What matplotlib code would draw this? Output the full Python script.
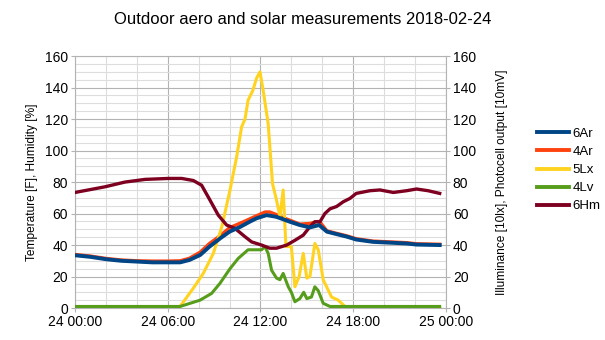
import matplotlib
matplotlib.use("Agg")
import matplotlib.pyplot as plt
from matplotlib.ticker import MultipleLocator

plt.rcParams['font.family'] = ['Liberation Sans', 'DejaVu Sans']

# hours since 2018-02-24 00:00
t_6ar = [0, 1, 2, 3, 4, 5, 6, 6.8, 7.4, 8.1, 8.7, 9.4, 10.0, 10.7, 11.3, 11.75, 12.4,
         13.0, 13.3, 13.9, 14.55, 15.2, 15.8, 16.3, 16.9, 17.6, 18.2, 19.3, 20.4,
         21.45, 22.1, 23.6]
v_6ar = [33.5, 32.5, 31, 30, 29.5, 29, 29, 29, 30.5, 33.7, 39, 44.3, 48.5, 51.6, 54.8,
         57, 59, 58, 57, 54.8, 52.7, 51.2, 52.7, 48.5, 47, 45.3, 43.5, 42, 41.5, 41,
         40.3, 40]

t_4ar = [0, 1, 2, 3, 4, 5, 6, 6.8, 7.4, 8.1, 8.7, 9.4, 10.0, 10.9, 11.75, 12.3, 12.6,
         13.0, 13.3, 13.9, 14.55, 15.2, 15.7, 15.9, 16.3, 16.9, 17.6, 18.2, 19.3, 20.4,
         21.45, 22.1, 23.6]
v_4ar = [34, 33, 31.5, 30.5, 30, 29.8, 29.8, 30, 31.6, 35.5, 41, 46, 51, 54.8, 58.6, 61,
         61, 59.5, 58, 55.8, 53.3, 53.7, 55, 54, 49, 47.5, 45.8, 44, 42.5, 42, 41.5,
         40.8, 40.5]

t_5lx = [0, 6.6, 6.8, 7.65, 8.3, 8.95, 9.5, 10.03, 10.46, 10.78, 11.0, 11.2, 11.5,
         11.75, 11.97, 12.18, 12.5, 12.78, 13.04, 13.26, 13.47, 13.65, 14.0, 14.23,
         14.5, 14.77, 15.0, 15.2, 15.52, 15.74, 16.06, 16.6, 17.03, 17.47, 17.8, 23.6]
v_5lx = [0, 0, 1, 12.5, 22, 34.7, 51.6, 75, 96, 115, 120, 132, 138, 146, 150, 138, 117,
         79, 68.6, 58, 75, 39, 39, 13.5, 20, 34.7, 19, 20, 41, 37, 18, 7, 5, 1, 0, 0]

t_4lv = [0, 6.8, 8.09, 8.84, 9.38, 10.03, 10.56, 11.2, 12.07, 12.29, 12.5, 12.72, 13.04,
         13.26, 13.47, 13.8, 14.0, 14.23, 14.55, 14.8, 15.0, 15.3, 15.52, 15.74, 16.06,
         16.5, 23.6]
v_4lv = [1, 1, 5, 9.3, 15.7, 25, 31.5, 37, 37, 39, 34.7, 24, 19, 18, 22, 13.5, 10, 4, 6,
         10, 6, 7, 13.5, 11, 3, 1, 1]

t_6hm = [0, 1.94, 3.23, 4.53, 6.04, 6.9, 7.65, 8.19, 8.73, 9.27, 9.81, 10.35, 11.0,
         11.43, 12.07, 12.6, 13.04, 13.37, 13.7, 14.23, 14.77, 15.2, 15.52, 15.85,
         16.17, 16.5, 16.93, 17.36, 17.79, 18.2, 19.08, 19.73, 20.6, 21.45, 22.1,
         22.85, 23.6]
v_6hm = [73.4, 77, 80, 81.7, 82.3, 82.3, 81, 78, 68.6, 59, 52.7, 50.6, 45.3, 42, 40, 38,
         38, 39, 40, 43, 46.3, 51.6, 54.8, 54.8, 60, 63, 64.5, 67.5, 69.6, 72.8, 74.5,
         75, 73.4, 74.5, 75.6, 74.5, 72.8]

hour_ticks = [0, 6, 12, 18, 24]
hour_labels = ['24 00:00', '24 06:00', '24 12:00', '24 18:00', '25 00:00']

major_c = '#b3b3b3'
minor_c = '#dddddd'

fig = plt.figure(figsize=(6.05, 3.40), dpi=100)
ax = fig.add_axes([0.124, 0.094, 0.613, 0.741])

ax.plot(t_4ar, v_4ar, color='#ff420e', lw=2.4, label='4Ar', zorder=3)
ax.plot(t_6ar, v_6ar, color='#004586', lw=2.8, label='6Ar', zorder=4)
ax.plot(t_5lx, v_5lx, color='#ffd320', lw=2.2, label='5Lx', zorder=3)
ax.plot(t_4lv, v_4lv, color='#579d1c', lw=2.2, label='4Lv', zorder=3)
ax.plot(t_6hm, v_6hm, color='#7e0021', lw=2.4, label='6Hm', zorder=3)

ax.set_xlim(0, 24)
ax.set_ylim(0, 160)
ax.set_xticks(hour_ticks)
ax.set_xticklabels(hour_labels)
ax.xaxis.set_minor_locator(MultipleLocator(2))
ax.yaxis.set_major_locator(MultipleLocator(20))
ax.yaxis.set_minor_locator(MultipleLocator(5))
ax.grid(which='major', color=major_c, lw=0.8)
ax.grid(which='minor', color=minor_c, lw=0.8)
ax.set_axisbelow(True)
ax.tick_params(which='major', length=3, color=major_c, labelsize=10, pad=2)
ax.tick_params(which='minor', length=0)
for s in ax.spines.values():
    s.set_color(major_c)
    s.set_linewidth(0.8)
ax.set_ylabel('Temperature [F], Humidity [%]', fontsize=8.6, labelpad=5)

ax2 = ax.twinx()
ax2.set_ylim(0, 160)
ax2.yaxis.set_major_locator(MultipleLocator(20))
ax2.tick_params(length=3, color=major_c, labelsize=10, pad=2)
for s in ax2.spines.values():
    s.set_visible(False)
ax2.set_ylabel('Illuminance [10lx], Photocell output [10mV]', fontsize=8.6, labelpad=14)

handles, labels = ax.get_legend_handles_labels()
order = [1, 0, 2, 3, 4]
leg = fig.legend([handles[i] for i in order], [labels[i] for i in order],
                 loc='center left', bbox_to_anchor=(0.868, 0.5), frameon=False,
                 fontsize=9.5, handlelength=2.4, handletextpad=0.3, labelspacing=0.45)
for line in leg.get_lines():
    line.set_linewidth(2.8)

fig.suptitle('Outdoor aero and solar measurements 2018-02-24', fontsize=12, y=0.965)

fig.savefig('out.png', dpi=100)
